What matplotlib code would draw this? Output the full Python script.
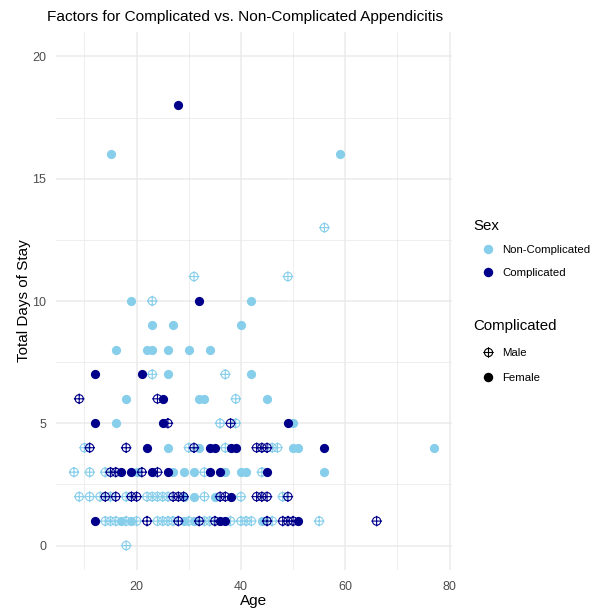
import matplotlib
matplotlib.use("Agg")
import matplotlib.pyplot as plt
from matplotlib.path import Path
from matplotlib.lines import Line2D
import numpy as np

plt.rcParams['font.family'] = ['Liberation Sans', 'DejaVu Sans']

# ---- data: (age, days) per group ----
noncomp_female_age = [15, 59, 19, 42, 23, 27, 40, 16, 22, 23, 26, 30, 34, 26, 42, 18, 32, 33, 45,
                      16, 50, 26, 32, 50, 51, 77, 20, 27, 29, 31, 37, 40, 41, 56, 29, 31, 35,
                      17, 19, 29, 31, 44]
noncomp_female_days = [16, 16, 10, 10, 9, 9, 9, 8, 8, 8, 8, 8, 8, 7, 7, 6, 6, 6, 6,
                       5, 5, 4, 4, 4, 4, 4, 3, 3, 3, 3, 3, 3, 3, 3, 2, 2, 2,
                       1, 1, 1, 1, 1]

noncomp_male_age = [56, 31, 49, 23, 23, 37, 39, 36, 39, 10, 30, 37, 46, 47, 8, 11, 14, 33, 44,
                    9, 11, 13, 15, 18, 22, 23, 24, 25, 26, 33, 40, 48, 18,
                    14, 15, 16, 18, 20, 24, 25, 26, 27, 30, 33, 34, 38, 40, 41, 42, 46, 55]
noncomp_male_days = [13, 11, 11, 10, 7, 7, 6, 5, 5, 4, 4, 4, 4, 4, 3, 3, 3, 3, 3,
                     2, 2, 2, 2, 2, 2, 2, 2, 2, 2, 2, 2, 2, 0,
                     1, 1, 1, 1, 1, 1, 1, 1, 1, 1, 1, 1, 1, 1, 1, 1, 1, 1]

comp_female_age = [28, 32, 12, 21, 25, 12, 25, 49, 22, 34, 35, 38, 39, 56,
                   17, 19, 23, 26, 34, 36, 45, 38, 12, 36, 37, 51]
comp_female_days = [18, 10, 7, 7, 6, 5, 5, 5, 4, 4, 4, 4, 4, 4,
                    3, 3, 3, 3, 3, 3, 3, 2, 1, 1, 1, 1]

comp_male_age = [9, 24, 26, 38, 11, 18, 31, 43, 44, 45, 15, 16, 21, 24,
                 14, 16, 19, 20, 27, 28, 29, 36, 37, 43, 44, 45, 49,
                 22, 28, 32, 35, 45, 48, 49, 50, 66]
comp_male_days = [6, 6, 5, 5, 4, 4, 4, 4, 4, 4, 3, 3, 3, 3,
                  2, 2, 2, 2, 2, 2, 2, 2, 2, 2, 2, 2, 2,
                  1, 1, 1, 1, 1, 1, 1, 1, 1]

x_ticks = [20, 40, 60, 80]
y_ticks = [0, 5, 10, 15, 20]

LIGHT = '#87CEEB'
DARK = '#00008B'

# circle-plus marker (R shape 10)
ext = 1.28
circ = Path.unit_circle()
hline = Path([[-ext, 0], [ext, 0]], [Path.MOVETO, Path.LINETO])
vline = Path([[0, -ext], [0, ext]], [Path.MOVETO, Path.LINETO])
cplus = Path.make_compound_path(circ, hline, vline)

fig = plt.figure(figsize=(6.08, 6.11), dpi=100)
ax = fig.add_axes([56/608, 1-570/611, (452-56)/608, (570-32)/611])

S_FILL = 44
S_MALE = 58
LW = 0.8

ax.scatter(noncomp_male_age, noncomp_male_days, marker=cplus, s=S_MALE, facecolors='none',
           edgecolors=LIGHT, linewidths=LW, zorder=3)
ax.scatter(noncomp_female_age, noncomp_female_days, marker='o', s=S_FILL, color=LIGHT,
           linewidths=0, zorder=3)
ax.scatter(comp_male_age, comp_male_days, marker=cplus, s=S_MALE, facecolors='none',
           edgecolors=DARK, linewidths=LW, zorder=4)
ax.scatter(comp_female_age, comp_female_days, marker='o', s=S_FILL, color=DARK,
           linewidths=0, zorder=4)

all_age = noncomp_female_age + noncomp_male_age + comp_female_age + comp_male_age
amin, amax = min(all_age), max(all_age)
pad = 0.05 * (amax - amin)
ax.set_xlim(amin - pad, amax + pad)
ax.set_ylim(-1, 21)

ax.set_xticks(x_ticks)
ax.set_yticks(y_ticks)
ax.set_xticks([10, 30, 50, 70], minor=True)
ax.set_yticks([2.5, 7.5, 12.5, 17.5], minor=True)
ax.grid(True, which='major', color='#EBEBEB', linewidth=1.1, zorder=0)
ax.grid(True, which='minor', color='#EBEBEB', linewidth=0.6, zorder=0)
ax.set_axisbelow(True)
for sp in ax.spines.values():
    sp.set_visible(False)
ax.tick_params(which='both', length=0, labelsize=9, labelcolor='#4D4D4D')
ax.tick_params(axis='x', pad=8)
ax.tick_params(axis='y', pad=7)

ax.set_xlabel('Age', fontsize=11, labelpad=1)
ax.set_ylabel('Total Days of Stay', fontsize=11, labelpad=1)
fig.text(47/608, 1-17/611, 'Factors for Complicated vs. Non-Complicated Appendicitis',
         fontsize=11.1, ha='left', va='center')

# legends
LFS = 8.2
h1 = [Line2D([], [], marker='o', linestyle='none', color=LIGHT, markersize=6.8, markeredgewidth=0),
      Line2D([], [], marker='o', linestyle='none', color=DARK, markersize=6.8, markeredgewidth=0)]
leg1 = fig.legend(h1, ['Non-Complicated', 'Complicated'], title='Sex',
                  loc='upper left', bbox_to_anchor=(469/608, 1-214/611), frameon=False,
                  fontsize=LFS, title_fontsize=10.8, alignment='left',
                  handletextpad=0.1, labelspacing=1.1, handlelength=2.45, borderaxespad=0)
h2 = [Line2D([], [], marker=cplus, linestyle='none', color='black', markerfacecolor='none',
             markersize=7.5, markeredgewidth=0.8),
      Line2D([], [], marker='o', linestyle='none', color='black', markersize=6.8, markeredgewidth=0)]
leg2 = fig.legend(h2, ['Male', 'Female'], title='Complicated',
                  loc='upper left', bbox_to_anchor=(469/608, 1-314/611), frameon=False,
                  fontsize=LFS, title_fontsize=10.8, alignment='left',
                  handletextpad=0.1, labelspacing=1.35, handlelength=2.45, borderaxespad=0)

fig.savefig('out.png', dpi=100)
